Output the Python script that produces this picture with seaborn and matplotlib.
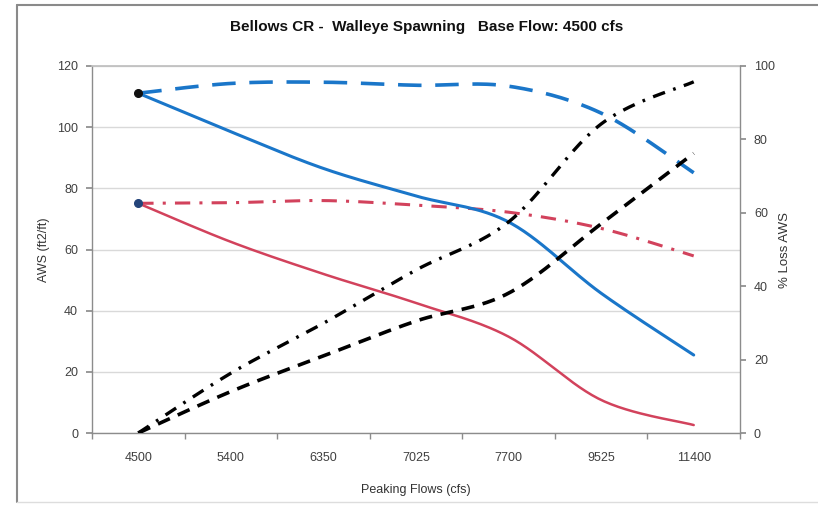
import numpy as np
import pandas as pd
import matplotlib
matplotlib.use("Agg")
import matplotlib.pyplot as plt
import seaborn as sns
from matplotlib.lines import Line2D

# ---- data ----
flows = ["4500", "5400", "6350", "7025", "7700", "9525", "11400"]
aws_blue_solid = [111.1, 98.5, 86.5, 77.5, 69.0, 45.7, 25.5]
aws_blue_dash = [111.1, 114.3, 114.7, 113.7, 113.4, 104.6, 85.1]
aws_red_solid = [75.1, 62.5, 52.0, 42.5, 31.5, 10.8, 2.6]
aws_red_dashdot = [75.1, 75.3, 76.0, 74.5, 72.2, 66.9, 57.9]
loss_black_dash = [0.0, 11.3, 21.0, 30.5, 38.1, 57.0, 76.2]
loss_black_dashdot = [0.0, 16.3, 29.9, 44.4, 57.5, 84.2, 95.7]

title = "Bellows CR -  Walleye Spawning   Base Flow: 4500 cfs"
xlabel = "Peaking Flows (cfs)"
ylabel_left = "AWS (ft2/ft)"
ylabel_right = "% Loss AWS"


def smooth(vals, n=30):
    """Render an Excel-style smoothed line (cubic Bezier through the points)."""
    p = np.column_stack([np.arange(len(vals), dtype=float), np.asarray(vals, float)])
    out = []
    for i in range(len(p) - 1):
        p0 = p[i - 1] if i > 0 else p[i]
        p3n = p[i + 2] if i + 2 < len(p) else p[i + 1]
        c1 = p[i] + (p[i + 1] - p0) / 6.0
        c2 = p[i + 1] - (p3n - p[i]) / 6.0
        t = np.linspace(0, 1, n, endpoint=(i == len(p) - 2))[:, None]
        seg = ((1 - t) ** 3) * p[i] + 3 * ((1 - t) ** 2) * t * c1 + 3 * (1 - t) * t ** 2 * c2 + t ** 3 * p[i + 1]
        out.append(seg)
    s = np.vstack(out)
    return pd.DataFrame({"x": s[:, 0], "y": s[:, 1]})


sns.set_theme(style="white")
plt.rcParams["font.family"] = ["Liberation Sans", "DejaVu Sans"]

fig = plt.figure(figsize=(8.18, 5.05), dpi=100)
ax = fig.add_axes([92 / 818, 72 / 505, 648 / 818, 367 / 505])
ax2 = ax.twinx()

blue = "#1A76C9"
red = "#D2425C"

# left-axis series
sns.lineplot(data=smooth(aws_blue_dash), x="x", y="y", ax=ax, color=blue, lw=2.6,
             sort=False, estimator=None)
ax.lines[-1].set_dashes([6.5, 3.8])
sns.lineplot(data=smooth(aws_red_dashdot), x="x", y="y", ax=ax, color=red, lw=2.2,
             sort=False, estimator=None)
ax.lines[-1].set_dashes([5, 3, 1, 3])
sns.lineplot(data=smooth(aws_blue_solid), x="x", y="y", ax=ax, color=blue, lw=2.2,
             sort=False, estimator=None)
sns.lineplot(data=smooth(aws_red_solid), x="x", y="y", ax=ax, color=red, lw=1.8,
             sort=False, estimator=None)

# markers at the first point
ax.plot([0], [aws_blue_solid[0]], "o", color="#111111", ms=5.5, zorder=5)
ax.plot([0], [aws_red_solid[0]], "o", color="#24447A", ms=5.5, zorder=5)

# right-axis series
sns.lineplot(data=smooth(loss_black_dash), x="x", y="y", ax=ax2, color="black", lw=2.6,
             sort=False, estimator=None)
ax2.lines[-1].set_dashes([3.6, 2.4])
sns.lineplot(data=smooth(loss_black_dashdot), x="x", y="y", ax=ax2, color="black", lw=2.4,
             sort=False, estimator=None)
ax2.lines[-1].set_dashes([3.8, 2.6, 0.8, 2.6])

# axes
ax.set_xlim(-0.5, len(flows) - 0.5)
ax.set_ylim(0, 120)
ax2.set_ylim(0, 100)
ax.set_xticks(range(len(flows)))
ax.set_xticklabels(flows)
ax.set_yticks(range(0, 121, 20))
ax2.set_yticks(range(0, 101, 20))
ax.set_xticks(np.arange(-0.5, len(flows), 1.0), minor=True)

ax.yaxis.grid(True, color="#d9d9d9", lw=1.0)
ax.set_axisbelow(True)

for a in (ax, ax2):
    for s in a.spines.values():
        s.set_visible(False)
ax.spines["left"].set_visible(True)
ax.spines["bottom"].set_visible(True)
ax2.spines["right"].set_visible(True)
for s in (ax.spines["left"], ax.spines["bottom"], ax2.spines["right"]):
    s.set_color("#8c8c8c")
    s.set_linewidth(1.0)
ax.spines["top"].set_visible(True)
ax.spines["top"].set_color("#bfbfbf")

ax.tick_params(axis="y", which="major", left=True, length=4, color="#8c8c8c",
               labelsize=9, labelcolor="#404040", pad=6)
ax.tick_params(axis="x", which="major", bottom=False, labelsize=9, labelcolor="#404040", pad=8)
ax.tick_params(axis="x", which="minor", bottom=True, length=4, color="#8c8c8c")
ax2.tick_params(axis="y", right=True, length=4, color="#8c8c8c", labelsize=9,
                labelcolor="#404040", pad=6)

ax.set_xlabel(xlabel, fontsize=9, color="#333333", labelpad=14)
ax.set_ylabel(ylabel_left, fontsize=9, color="#333333", labelpad=5)
ax2.set_ylabel(ylabel_right, fontsize=9.5, color="#333333", labelpad=3, rotation=90)

fig.text(427 / 818, 1 - 27 / 505, title, ha="center", va="center",
         fontsize=11, fontweight="bold", color="#111111")

# chart-area border
fig.add_artist(Line2D([17 / 818, 17 / 818], [1 - 5 / 505, 1 - 502 / 505],
                      transform=fig.transFigure, color="#8a8a8a", lw=1.5))
fig.add_artist(Line2D([17 / 818, 1.0], [1 - 5 / 505, 1 - 5 / 505],
                      transform=fig.transFigure, color="#8a8a8a", lw=1.5))
fig.add_artist(Line2D([17 / 818, 1.0], [1 - 502 / 505, 1 - 502 / 505],
                      transform=fig.transFigure, color="#dddddd", lw=1.0))

fig.savefig("out.png", dpi=100)
